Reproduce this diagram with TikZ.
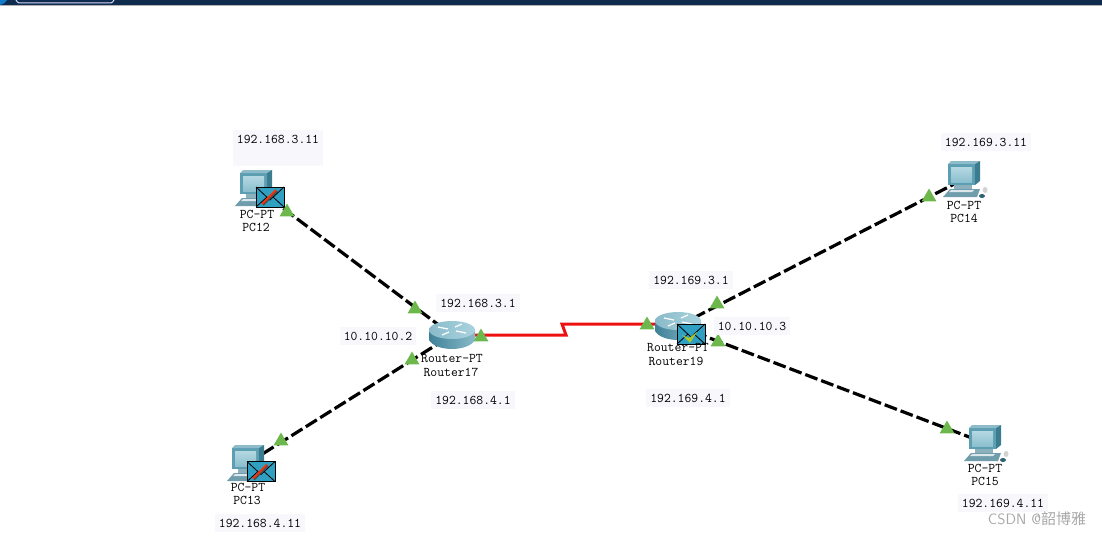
\documentclass[tikz,border=0pt]{standalone}
\usepackage{fontspec}
\newfontfamily\cjk{Noto Sans CJK SC}
\usepackage{tikz}
\usetikzlibrary{shapes.geometric,calc,positioning,arrows.meta}
\definecolor{BarNavy}{HTML}{0F2C4F}
\definecolor{LinkRed}{HTML}{EE1111}
\definecolor{LampGreen}{HTML}{6CB84C}
\definecolor{LabelBack}{HTML}{F7F7FC}
\definecolor{MailBlue}{HTML}{2F9FC2}
\definecolor{MailCheck}{HTML}{A8C82E}
\definecolor{ShellTeal}{HTML}{5C9EB2}
\definecolor{ShellDark}{HTML}{3B7C90}
\definecolor{ScreenTop}{HTML}{B4D8E2}
\definecolor{ScreenLow}{HTML}{8CBFCE}
\definecolor{KeyTeal}{HTML}{6F9DAC}
\definecolor{DiscDark}{HTML}{3F8198}
\definecolor{DiscLight}{HTML}{A9D3DE}
\definecolor{MarkTextGray}{HTML}{A8A8A8}
\newcommand{\mailbody}{%
  \draw[black, line width=1pt, fill=MailBlue] (-14,-10) rectangle (14,10);
  \draw[black, line width=.8pt] (-14,-10) -- (0,3) -- (14,-10);
  \draw[black, line width=.8pt] (-14,10) -- (-3,0) (14,10) -- (3,0);
}

\begin{document}
\begin{tikzpicture}[
  x=1pt, y=-1pt,
  wire/.style={black, line width=3.2pt, dash pattern=on 13pt off 4pt},
  serial/.style={LinkRed, line width=3pt},
  spot/.style={inner sep=0pt, minimum size=0pt},
  lamp/.style={regular polygon, regular polygon sides=3, fill=LampGreen, inner sep=0pt, minimum size=17pt},
  devlbl/.style={font=\ttfamily\fontsize{13.3}{13.3}\selectfont, inner sep=0pt, text=black},
  iplbl/.style={devlbl, fill=LabelBack, inner xsep=4pt, inner ysep=5pt},
  pccomputer/.pic={
    \fill[ShellTeal] (-16,-15) rectangle (11,6);
    \fill[ShellTeal!70!white] (-16,-15) -- (-13,-18) -- (16,-18) -- (11,-15) -- cycle;
    \fill[ShellDark] (11,-15) -- (16,-18) -- (16,2) -- (11,6) -- cycle;
    \shade[top color=ScreenTop, bottom color=ScreenLow] (-13,-12) rectangle (8,3);
    \fill[KeyTeal!80!white] (-10,6) rectangle (8,10);
    \fill[KeyTeal] (-14,10) -- (16,10) -- (13,18) -- (-21,18) -- cycle;
    \fill[white!75!KeyTeal] (-13,11) -- (10,11) -- (8,13) -- (-15,13) -- cycle;
    \fill[gray!35] (21,11) ellipse [x radius=2.5pt, y radius=3pt];
    \fill[ShellDark!80!black] (18,17) ellipse [x radius=3pt, y radius=2pt];
  },
  routerdisc/.pic={
    \shade[left color=DiscDark, right color=DiscLight!70!DiscDark]
      (-23,-5) -- (-23,5) .. controls (-16,17) and (16,17) .. (23,5) -- (23,-5) -- cycle;
    \shade[left color=DiscLight!70!DiscDark, right color=DiscLight] (0,-5) ellipse [x radius=23pt, y radius=9pt];
    \draw[white, line width=1.2pt] (-14,-8) -- (-4,-6) (14,-2) -- (4,-4) (-10,0) -- (-3,-3) (10,-11) -- (3,-8);
  },
  mailred/.pic={
    \mailbody
    \draw[black!70, line width=2pt] (-7,8) -- (7,-6);
    \draw[LinkRed!70!orange, line width=2pt] (-8,7) -- (6,-7);
  },
  mailgreen/.pic={
    \mailbody
    \fill[MailCheck] (-9,1) -- (-2,4) -- (6,-2) -- (-1,9) -- cycle;
  },
]
  \useasboundingbox (0,0) rectangle (1102,535);

  % Window bar
  \fill[BarNavy] (0,0) rectangle (1102,5);
  \fill[gray!60] (0,5) rectangle (1102,6);
  \fill[cyan!60!blue] (0,0) -- (7,0) .. controls (6,3) and (3,4) .. (0,5) -- cycle;
  \draw[white!85!blue, line width=1pt] (16,0) .. controls (18,3) .. (22,3) -- (108,3) .. controls (112,3) .. (114,0);

  % Nodes
  \node[spot] (pc12) at (256,188) {};
  \node[spot] (pc13) at (248,463) {};
  \node[spot] (pc14) at (964,179) {};
  \node[spot] (pc15) at (985,443) {};
  \node[spot] (rtr17) at (452,335) {};
  \node[spot] (rtr19) at (678,326) {};
  \coordinate (kinka) at (566,335);
  \coordinate (kinkb) at (562,324);

  % Links
  \draw[wire] (pc12) -- (rtr17);
  \draw[wire] (pc13) -- (rtr17);
  \draw[wire] (rtr19) -- (pc14);
  \draw[wire] (rtr19) -- (pc15);
  \draw[serial] (rtr17) -- (kinka) -- (kinkb) -- (kinkb -| rtr19);

  % Icons
  \pic at (pc12) {pccomputer};
  \pic at (pc13) {pccomputer};
  \pic at (pc14) {pccomputer};
  \pic at (pc15) {pccomputer};
  \pic at (rtr17) {routerdisc};
  \pic at (rtr19) {routerdisc};
  \pic at (270,197) {mailred};
  \pic at (261,471.5) {mailred};
  \pic at (691,334) {mailgreen};

  % Link lights
  \node[lamp] (lamp12) at (287,212) {};
  \node[lamp] (lamp17a) at (415,309) {};
  \node[lamp] (lamp17b) at (412,360) {};
  \node[lamp] (lamp13) at (281,441) {};
  \node[lamp] (lamp17c) at (481,337) {};
  \node[lamp] (lamp19a) at (647,325) {};
  \node[lamp] (lamp19b) at (717,304) {};
  \node[lamp] (lamp19c) at (718,342) {};
  \node[lamp] (lamp14) at (929,197) {};
  \node[lamp] (lamp15) at (947,429) {};

  % Device labels
  \node[devlbl] (type12) at (257,214) {PC-PT};
  \node[devlbl] (name12) at (256,227) {PC12};
  \node[devlbl] (type13) at (248,487) {PC-PT};
  \node[devlbl] (name13) at (247,500) {PC13};
  \node[devlbl] (type14) at (964,205) {PC-PT};
  \node[devlbl] (name14) at (964,218) {PC14};
  \node[devlbl] (type15) at (985,468) {PC-PT};
  \node[devlbl] (name15) at (985,481) {PC15};
  \node[devlbl] (type17) at (452,359) {Router-PT};
  \node[devlbl] (name17) at (451,372) {Router17};
  \node[devlbl] (type19) at (678,348) {Router-PT};
  \node[devlbl] (name19) at (676,361) {Router19};

  % Addresses
  \node[iplbl, text depth=18pt] (ip12) at (278,148) {192.168.3.11};
  \node[iplbl] (ip13) at (260,523) {192.168.4.11};
  \node[iplbl] (ip14) at (986,142) {192.169.3.11};
  \node[iplbl] (ip15) at (1003,503) {192.169.4.11};
  \node[iplbl] (ipa17) at (478,303) {192.168.3.1};
  \node[iplbl] (ipb17) at (378,336) {10.10.10.2};
  \node[iplbl] (ipc17) at (473,400) {192.168.4.1};
  \node[iplbl] (ipa19) at (691,280) {192.169.3.1};
  \node[iplbl] (ipb19) at (752,326) {10.10.10.3};
  \node[iplbl] (ipc19) at (688,398) {192.169.4.1};

  % Watermark
  \node[font=\sffamily\fontsize{15}{15}\selectfont, text=MarkTextGray, inner sep=0pt] (mark) at (1037,519) {CSDN @{\cjk 韶博雅}};
\end{tikzpicture}
\end{document}
